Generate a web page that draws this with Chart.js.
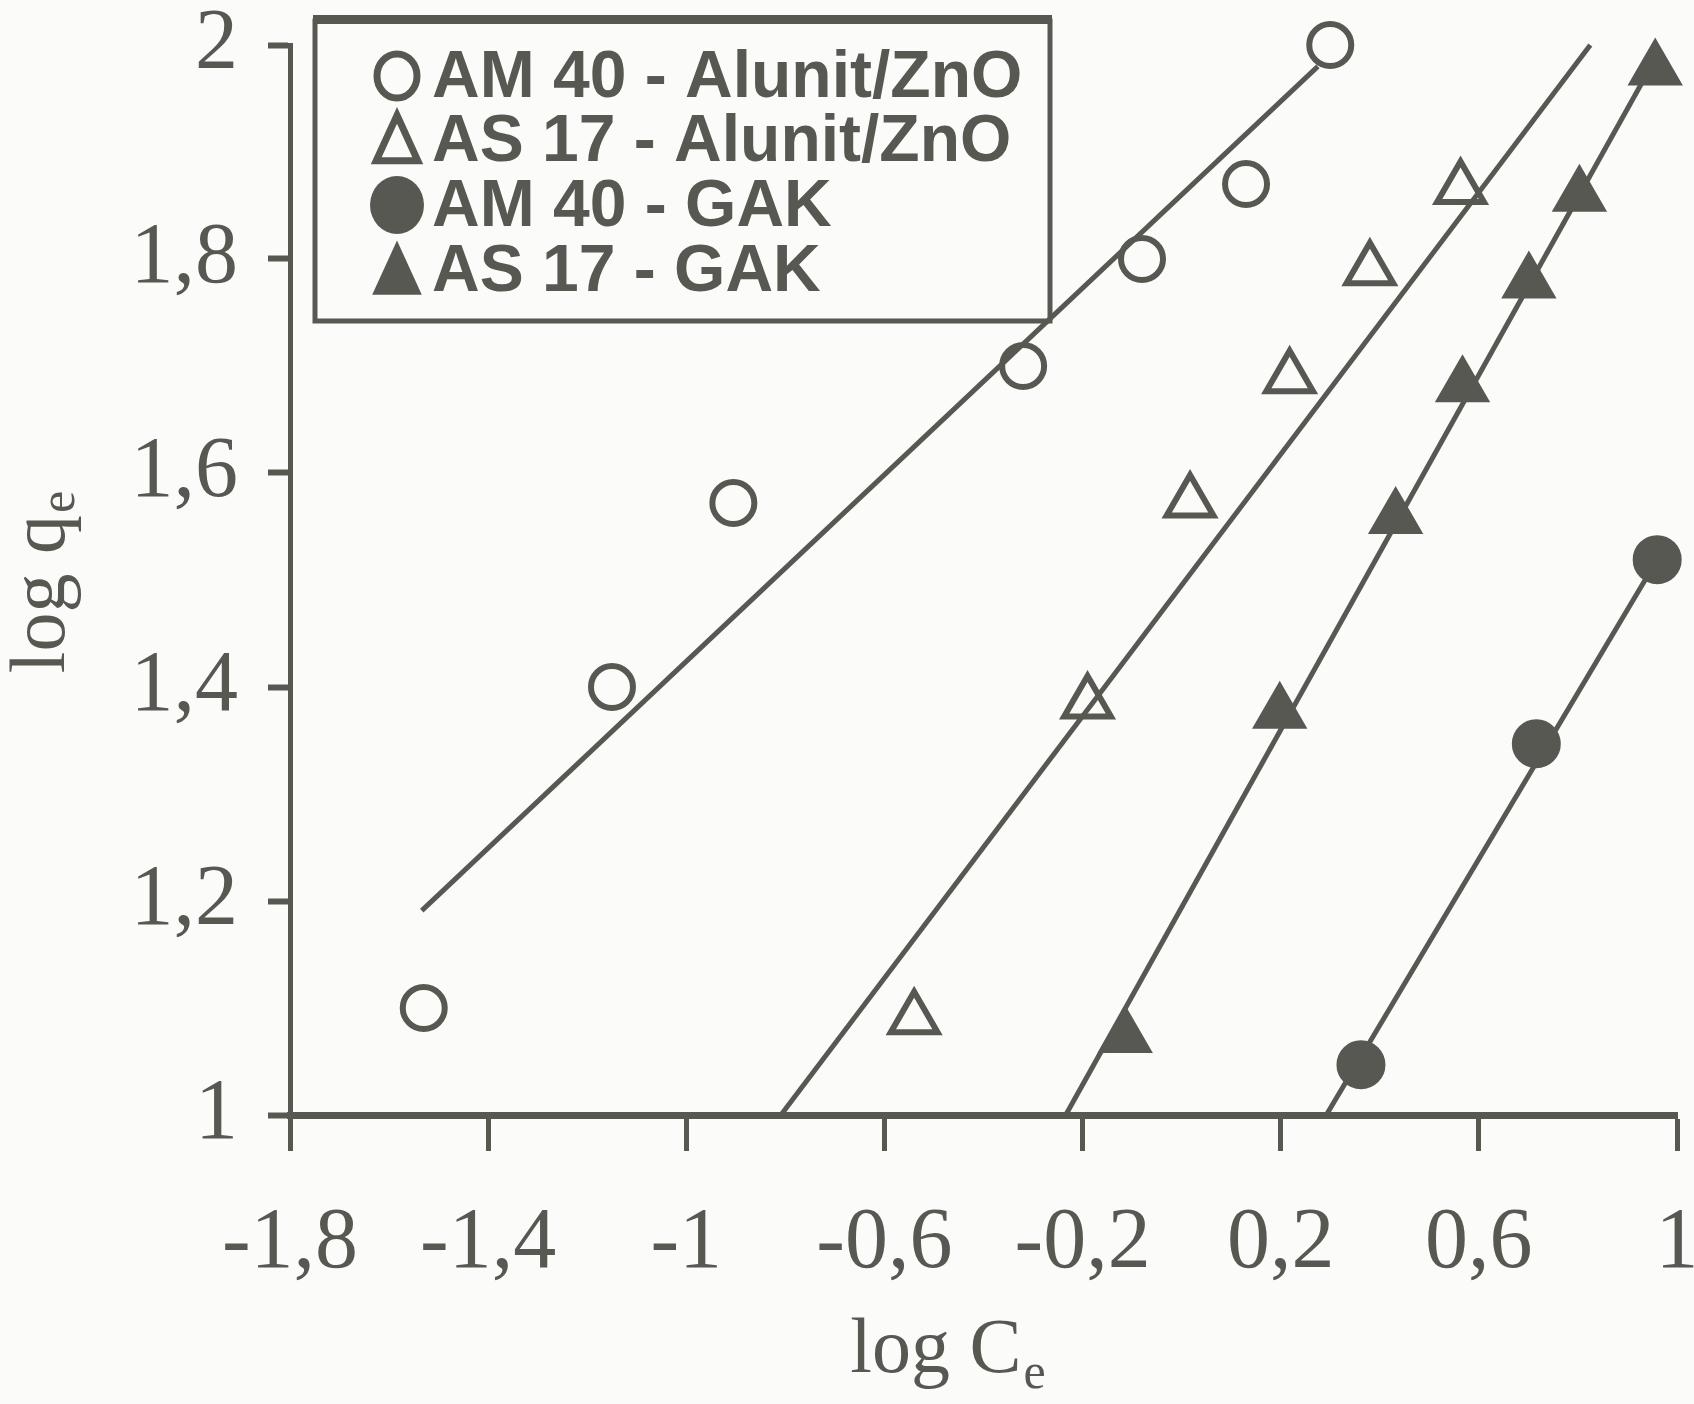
<!DOCTYPE html>
<html>
<head>
<meta charset="utf-8">
<script src="https://cdn.jsdelivr.net/npm/chart.js@4.4.0/dist/chart.umd.min.js"></script>
<style>
  body { margin: 0; background: #fbfbfa; }
  canvas { display: block; }
</style>
</head>
<body>
<canvas id="chart" width="1694" height="1404"></canvas>
<script>
// values
const amAlunitX = [-1.53, -1.15, -0.905, -0.32, -0.08, 0.13, 0.30];
const amAlunitY = [1.10, 1.40, 1.572, 1.70, 1.80, 1.87, 2.00];
const asAlunitX = [-0.54, -0.19, 0.017, 0.218, 0.38, 0.563];
const asAlunitY = [1.09, 1.385, 1.573, 1.689, 1.79, 1.866];
const amGakX = [0.362, 0.716, 0.96];
const amGakY = [1.047, 1.347, 1.519];
const asGakX = [-0.114, 0.198, 0.432, 0.567, 0.701, 0.803, 0.956];
const asGakY = [1.073, 1.376, 1.558, 1.681, 1.778, 1.859, 1.977];

// fitted lines (end points)
const amAlunitFitX = [-1.534, 0.275];
const amAlunitFitY = [1.191, 1.98];
const asAlunitFitX = [-0.809, 0.825];
const asAlunitFitY = [1.0, 2.0];
const asGakFitX = [-0.234, 0.956];
const asGakFitY = [1.0, 1.987];
const amGakFitX = [0.292, 0.96];
const amGakFitY = [1.0, 1.519];

const seriesLabels = ['AM 40 - Alunit/ZnO', 'AS 17 - Alunit/ZnO', 'AM 40 - GAK', 'AS 17 - GAK'];
const xTicks = [-1.8, -1.4, -1, -0.6, -0.2, 0.2, 0.6, 1];
const yTicks = [1, 1.2, 1.4, 1.6, 1.8, 2];

const ink = '#585853';

function pts(xs, ys) {
    return xs.map((x, i) => ({ x: x, y: ys[i] }));
}
function fmt(v) {
    return String(Math.round(v * 10) / 10).replace('.', ',');
}

function markerSet(label, xs, ys, style, filled, r) {
    return {
        label: label,
        data: pts(xs, ys),
        showLine: false,
        pointStyle: style,
        pointRadius: r,
        pointBorderWidth: filled ? 3 : 6,
        pointBorderColor: ink,
        pointBackgroundColor: filled ? ink : 'rgba(0,0,0,0)',
        clip: false,
        isMarker: true,
        filled: filled
    };
}
function fitSet(xs, ys) {
    return {
        label: '',
        data: pts(xs, ys),
        showLine: true,
        borderColor: ink,
        borderWidth: 5,
        pointRadius: 0,
        clip: false
    };
}

// titles with subscripts + boxed legend
const extras = {
    id: 'extras',
    afterDraw(chart) {
        const ctx = chart.ctx;
        ctx.save();
        ctx.fillStyle = ink;
        ctx.textBaseline = 'alphabetic';

        // x title
        const main = 'log C';
        ctx.font = '78px "Liberation Serif"';
        let w1 = ctx.measureText(main).width;
        ctx.font = '50px "Liberation Serif"';
        let w2 = ctx.measureText('e').width;
        let x0 = 947 - (w1 + w2) / 2;
        ctx.font = '78px "Liberation Serif"';
        ctx.fillText(main, x0, 1372);
        ctx.font = '50px "Liberation Serif"';
        ctx.fillText('e', x0 + w1 + 2, 1388);

        // y title (rotated)
        ctx.translate(64, 583);
        ctx.rotate(-Math.PI / 2);
        ctx.font = '78px "Liberation Serif"';
        w1 = ctx.measureText('log q').width;
        ctx.font = '50px "Liberation Serif"';
        w2 = ctx.measureText('e').width;
        x0 = -(w1 + w2) / 2;
        ctx.font = '78px "Liberation Serif"';
        ctx.fillText('log q', x0, 0);
        ctx.font = '50px "Liberation Serif"';
        ctx.fillText('e', x0 + w1 + 2, 10);
        ctx.restore();

        // legend box
        ctx.save();
        ctx.strokeStyle = ink;
        ctx.fillStyle = ink;
        ctx.lineWidth = 5;
        ctx.strokeRect(315, 21, 735, 300);
        ctx.fillRect(313, 15, 739, 9);

        const rows = [76, 140, 205, 270];
        const markers = chart.data.datasets.filter(d => d.isMarker);
        markers.forEach((d, i) => {
            const cy = rows[i];
            const cx = 397;
            ctx.lineWidth = 7;
            ctx.beginPath();
            if (d.pointStyle === 'circle') {
                const r = d.filled ? 27 : 20;
                ctx.ellipse(cx, cy, r, r + 2, 0, 0, Math.PI * 2);
            } else {
                const r = d.filled ? 31 : 26;
                ctx.moveTo(cx, cy - r * 0.95);
                ctx.lineTo(cx + r * 0.8, cy + r * 0.8);
                ctx.lineTo(cx - r * 0.8, cy + r * 0.8);
                ctx.closePath();
            }
            if (d.filled) ctx.fill(); else ctx.stroke();
            ctx.font = 'bold 66px "Liberation Sans"';
            ctx.textBaseline = 'middle';
            ctx.fillText(d.label, 432, cy + 3);
        });
        ctx.restore();
    }
};

const chart = new Chart(document.getElementById('chart'), {
    type: 'scatter',
    data: {
        datasets: [
            fitSet(amAlunitFitX, amAlunitFitY),
            fitSet(asAlunitFitX, asAlunitFitY),
            fitSet(asGakFitX, asGakFitY),
            fitSet(amGakFitX, amGakFitY),
            markerSet(seriesLabels[0], amAlunitX, amAlunitY, 'circle', false, 21),
            markerSet(seriesLabels[1], asAlunitX, asAlunitY, 'triangle', false, 27),
            markerSet(seriesLabels[2], amGakX, amGakY, 'circle', true, 23),
            markerSet(seriesLabels[3], asGakX, asGakY, 'triangle', true, 29)
        ]
    },
    options: {
        responsive: false,
        animation: false,
        layout: { autoPadding: false, padding: { left: 0, right: 17, top: 45, bottom: 0 } },
        plugins: { legend: { display: false }, tooltip: { enabled: false } },
        scales: {
            x: {
                type: 'linear',
                min: -1.8,
                max: 1,
                afterBuildTicks: s => { s.ticks = xTicks.map(v => ({ value: v })); },
                afterFit: s => { s.height = 289; s.paddingLeft = 0; s.paddingRight = 0; },
                ticks: {
                    callback: v => fmt(v),
                    color: ink,
                    font: { family: 'Liberation Serif', size: 86, lineHeight: 1 },
                    padding: 50,
                    maxRotation: 0
                },
                grid: { drawOnChartArea: false, drawTicks: true, tickLength: 36, tickWidth: 5, tickColor: ink },
                border: { color: ink, width: 7 }
            },
            y: {
                type: 'linear',
                min: 1,
                max: 2,
                afterBuildTicks: s => { s.ticks = yTicks.map(v => ({ value: v })); },
                afterFit: s => { s.width = 290; s.paddingTop = 0; s.paddingBottom = 0; },
                ticks: {
                    callback: v => fmt(v),
                    color: ink,
                    font: { family: 'Liberation Serif', size: 86, lineHeight: 1 },
                    padding: 30
                },
                grid: { drawOnChartArea: false, drawTicks: true, tickLength: 22, tickWidth: 6, tickColor: ink },
                border: { color: ink, width: 5 }
            }
        }
    },
    plugins: [extras]
});
</script>
</body>
</html>
